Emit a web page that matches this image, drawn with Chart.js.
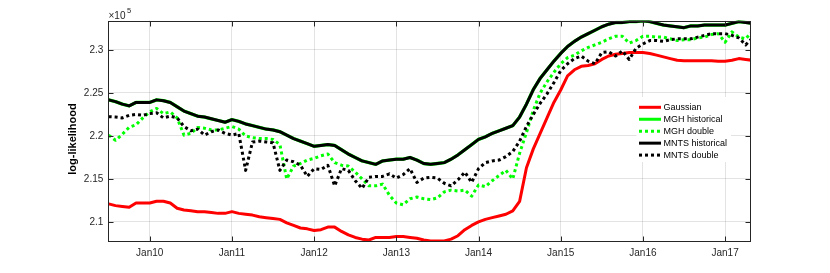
<!DOCTYPE html>
<html><head><meta charset="utf-8">
<script src="https://cdn.jsdelivr.net/npm/chart.js@4/dist/chart.umd.min.js"></script>
<style>html,body{margin:0;padding:0;background:#fff;}#wrap{width:830px;height:273px;position:relative;}</style>
</head><body><div id="wrap"><canvas id="c" width="830" height="273"></canvas></div>
<script>
const months = [
'2009-07','2009-08','2009-09','2009-10','2009-11','2009-12',
'2010-01','2010-02','2010-03','2010-04','2010-05','2010-06','2010-07','2010-08','2010-09','2010-10','2010-11','2010-12',
'2011-01','2011-02','2011-03','2011-04','2011-05','2011-06','2011-07','2011-08','2011-09','2011-10','2011-11','2011-12',
'2012-01','2012-02','2012-03','2012-04','2012-05','2012-06','2012-07','2012-08','2012-09','2012-10','2012-11','2012-12',
'2013-01','2013-02','2013-03','2013-04','2013-05','2013-06','2013-07','2013-08','2013-09','2013-10','2013-11','2013-12',
'2014-01','2014-02','2014-03','2014-04','2014-05','2014-06','2014-07','2014-08','2014-09','2014-10','2014-11','2014-12',
'2015-01','2015-02','2015-03','2015-04','2015-05','2015-06','2015-07','2015-08','2015-09','2015-10','2015-11','2015-12',
'2016-01','2016-02','2016-03','2016-04','2016-05','2016-06','2016-07','2016-08','2016-09','2016-10','2016-11','2016-12',
'2017-01','2017-02','2017-03','2017-04','2017-05'];
const xTickValues = [2010,2011,2012,2013,2014,2015,2016,2017];
const xTickLabels = ['Jan10','Jan11','Jan12','Jan13','Jan14','Jan15','Jan16','Jan17'];
const yTickValues = [2.1,2.15,2.2,2.25,2.3];
const yTickLabels = ['2.1','2.15','2.2','2.25','2.3'];
const seriesNames = ['Gaussian','MGH historical','MGH double','MNTS historical','MNTS double'];

const gaussian = [2.121,2.119,2.118,2.117,2.122,2.122,
2.122,2.124,2.124,2.122,2.116,2.114,2.113,2.112,2.112,2.111,2.110,2.110,
2.112,2.110,2.109,2.108,2.106,2.105,2.104,2.103,2.099,2.096,2.093,2.092,
2.090,2.091,2.094,2.094,2.089,2.085,2.082,2.080,2.079,2.082,2.082,2.082,
2.083,2.083,2.082,2.081,2.079,2.078,2.078,2.078,2.080,2.084,2.091,2.096,
2.100,2.103,2.105,2.107,2.109,2.113,2.124,2.163,2.185,2.203,2.221,2.239,
2.2535,2.270,2.277,2.281,2.282,2.284,2.289,2.293,2.295,2.296,2.297,2.297,
2.297,2.296,2.294,2.292,2.290,2.288,2.2875,2.2875,2.2875,2.2875,2.2875,2.287,
2.287,2.288,2.290,2.289,2.288];

const mghHist = [2.242,2.240,2.237,2.235,2.239,2.239,
2.239,2.242,2.241,2.239,2.234,2.229,2.226,2.223,2.222,2.220,2.218,2.216,
2.219,2.217,2.214,2.212,2.210,2.208,2.207,2.205,2.201,2.197,2.194,2.191,
2.188,2.189,2.190,2.189,2.184,2.179,2.175,2.171,2.169,2.167,2.171,2.172,
2.173,2.173,2.175,2.172,2.168,2.167,2.168,2.169,2.173,2.178,2.184,2.190,
2.196,2.199,2.203,2.206,2.209,2.212,2.222,2.237,2.254,2.267,2.277,2.287,
2.296,2.304,2.310,2.315,2.319,2.323,2.327,2.330,2.332,2.332,2.333,2.333,
2.334,2.333,2.331,2.329,2.328,2.327,2.326,2.328,2.328,2.329,2.329,2.329,
2.329,2.331,2.333,2.332,2.331];

const mghDouble = [2.201,2.195,2.202,2.210,2.213,2.221,
2.228,2.232,2.226,2.228,2.221,2.201,2.203,2.210,2.209,2.207,2.207,2.209,
2.211,2.208,2.200,2.198,2.197,2.197,2.196,2.190,2.150,2.165,2.168,2.172,
2.174,2.177,2.179,2.169,2.166,2.165,2.158,2.150,2.142,2.142,2.144,2.131,
2.122,2.120,2.127,2.129,2.127,2.126,2.128,2.135,2.137,2.136,2.137,2.130,
2.143,2.141,2.148,2.154,2.160,2.150,2.180,2.204,2.230,2.250,2.263,2.274,
2.284,2.291,2.294,2.299,2.303,2.306,2.309,2.313,2.316,2.316,2.308,2.311,
2.316,2.316,2.315,2.315,2.313,2.311,2.312,2.312,2.314,2.315,2.318,2.319,
2.309,2.321,2.315,2.313,2.322];

const mntsHist = [2.242,2.240,2.237,2.235,2.239,2.239,
2.239,2.242,2.241,2.239,2.234,2.229,2.226,2.223,2.222,2.220,2.218,2.216,
2.219,2.217,2.214,2.212,2.210,2.208,2.207,2.205,2.201,2.197,2.194,2.191,
2.188,2.189,2.190,2.189,2.184,2.179,2.175,2.171,2.169,2.167,2.171,2.172,
2.173,2.173,2.175,2.172,2.168,2.167,2.168,2.169,2.173,2.178,2.184,2.190,
2.196,2.199,2.203,2.206,2.209,2.212,2.222,2.237,2.254,2.267,2.277,2.287,
2.296,2.304,2.310,2.315,2.319,2.323,2.327,2.330,2.332,2.332,2.333,2.333,
2.334,2.333,2.331,2.329,2.328,2.327,2.326,2.328,2.328,2.329,2.329,2.329,
2.329,2.331,2.333,2.332,2.331];

const mntsDouble = [2.2225,2.222,2.221,2.224,2.225,2.224,
2.226,2.227,2.221,2.223,2.221,2.211,2.206,2.208,2.201,2.205,2.207,2.203,
2.201,2.203,2.160,2.193,2.194,2.193,2.192,2.160,2.172,2.170,2.166,2.153,
2.162,2.161,2.166,2.142,2.162,2.160,2.148,2.139,2.152,2.153,2.153,2.156,
2.151,2.155,2.162,2.146,2.151,2.152,2.151,2.145,2.142,2.149,2.158,2.146,
2.162,2.169,2.171,2.172,2.176,2.182,2.194,2.211,2.225,2.238,2.249,2.262,
2.276,2.284,2.290,2.293,2.287,2.284,2.297,2.298,2.293,2.299,2.289,2.302,
2.307,2.311,2.311,2.310,2.312,2.313,2.313,2.313,2.315,2.317,2.319,2.319,
2.319,2.317,2.314,2.306,2.314];

const X_MIN = 2009.496, X_MAX = 2017.315, Y_MIN = 2.0767, Y_MAX = 2.3343;
const monthPos = months.map(s => { const [y, m] = s.split('-').map(Number); return y + (m - 1) / 12; });
const toXY = arr => arr.map((v, i) => ({x: monthPos[i], y: v}));

const FONT = "'Liberation Sans', Arial, Helvetica, sans-serif";
const AX = '#262626';
const styles = [
  {color:'#ff0000', width:3, dash:[]},
  {color:'#00ff00', width:3.3, dash:[]},
  {color:'#00ff00', width:3, dash:[3,3]},
  {color:'#000000', width:3, dash:[]},
  {color:'#000000', width:3, dash:[3,3]}
];
const seriesData = [gaussian, mghHist, mghDouble, mntsHist, mntsDouble];

const datasets = seriesData.map((arr, k) => ({
  label: seriesNames[k],
  data: toXY(arr),
  borderColor: styles[k].color,
  backgroundColor: styles[k].color,
  borderWidth: styles[k].width,
  borderDash: styles[k].dash,
  borderCapStyle: 'butt',
  borderJoinStyle: 'round',
  pointRadius: 0,
  tension: 0,
  fill: false,
  order: 5 - k
}));

const decor = {
  id: 'decor',
  afterDatasetsDraw(chart) {
    const ctx = chart.ctx, a = chart.chartArea;
    const xs = chart.scales.x, ys = chart.scales.y;
    ctx.save();
    const L = Math.round(a.left) + 0.5, R = Math.round(a.right) - 0.5, T = Math.round(a.top) + 0.5, B = Math.round(a.bottom) - 0.5;
    ctx.strokeStyle = AX; ctx.lineWidth = 1; ctx.setLineDash([]);
    ctx.strokeRect(L, T, R - L, B - T);
    ctx.beginPath();
    xTickValues.forEach(v => { const px = Math.round(xs.getPixelForValue(v)) + 0.5; ctx.moveTo(px, B); ctx.lineTo(px, B - 5); ctx.moveTo(px, T); ctx.lineTo(px, T + 5); });
    yTickValues.forEach(v => { const py = Math.round(ys.getPixelForValue(v)) + 0.5; ctx.moveTo(L, py); ctx.lineTo(L + 5, py); ctx.moveTo(R, py); ctx.lineTo(R - 5, py); });
    ctx.stroke();
    ctx.fillStyle = AX; ctx.textBaseline = 'alphabetic'; ctx.textAlign = 'left';
    ctx.font = '10px ' + FONT;
    ctx.fillText('\u00d710', 108.5, 18.5);
    const w = ctx.measureText('\u00d710').width;
    ctx.font = '7.5px ' + FONT;
    ctx.fillText('5', 108.5 + w + 1.5, 12.8);
    ctx.save();
    ctx.translate(76, 139);
    ctx.rotate(-Math.PI / 2);
    ctx.font = 'bold 11px ' + FONT;
    ctx.textAlign = 'center'; ctx.fillStyle = '#000';
    ctx.fillText('log-likelihood', 0, 0);
    ctx.restore();
    ctx.fillStyle = '#fff';
    ctx.fillRect(636.5, 97, 94.5, 65);
    ctx.font = '9px ' + FONT; ctx.textBaseline = 'middle'; ctx.textAlign = 'left';
    seriesNames.forEach((name, k) => {
      const y = 107.3 + k * 11.95;
      ctx.beginPath();
      ctx.strokeStyle = styles[k].color; ctx.lineWidth = 3; ctx.lineCap = 'butt';
      ctx.setLineDash(styles[k].dash);
      ctx.moveTo(639, y); ctx.lineTo(661, y); ctx.stroke();
      ctx.setLineDash([]);
      ctx.fillStyle = '#000';
      ctx.fillText(name, 663.5, y + 0.5);
    });
    ctx.restore();
  }
};

new Chart(document.getElementById('c'), {
  type: 'line',
  data: { datasets },
  plugins: [decor],
  options: {
    responsive: false,
    animation: false,
    devicePixelRatio: 1,
    layout: { padding: { left: 0, right: 79, top: 20.5, bottom: 0 } },
    plugins: { legend: { display: false }, tooltip: { enabled: false } },
    scales: {
      x: {
        type: 'linear', min: X_MIN, max: X_MAX,
        afterFit: s => { s.height = 31; },
        afterBuildTicks: s => { s.ticks = xTickValues.map(v => ({value: v})); },
        ticks: { autoSkip: false, maxRotation: 0, padding: 5, color: AX,
          font: { family: FONT, size: 10 },
          callback: v => { const i = xTickValues.indexOf(v); return i >= 0 ? xTickLabels[i] : ''; } },
        grid: { color: 'rgba(38,38,38,0.13)', lineWidth: 1, drawTicks: false },
        border: { display: false }
      },
      y: {
        type: 'linear', min: Y_MIN, max: Y_MAX,
        afterFit: s => { s.width = 108.3; },
        afterBuildTicks: s => { s.ticks = yTickValues.map(v => ({value: v})); },
        ticks: { padding: 5, color: AX, font: { family: FONT, size: 10 },
          callback: v => { const i = yTickValues.findIndex(t => Math.abs(t - v) < 1e-9); return i >= 0 ? yTickLabels[i] : ''; } },
        grid: { color: 'rgba(38,38,38,0.13)', lineWidth: 1, drawTicks: false },
        border: { display: false }
      }
    }
  }
});
</script></body></html>
